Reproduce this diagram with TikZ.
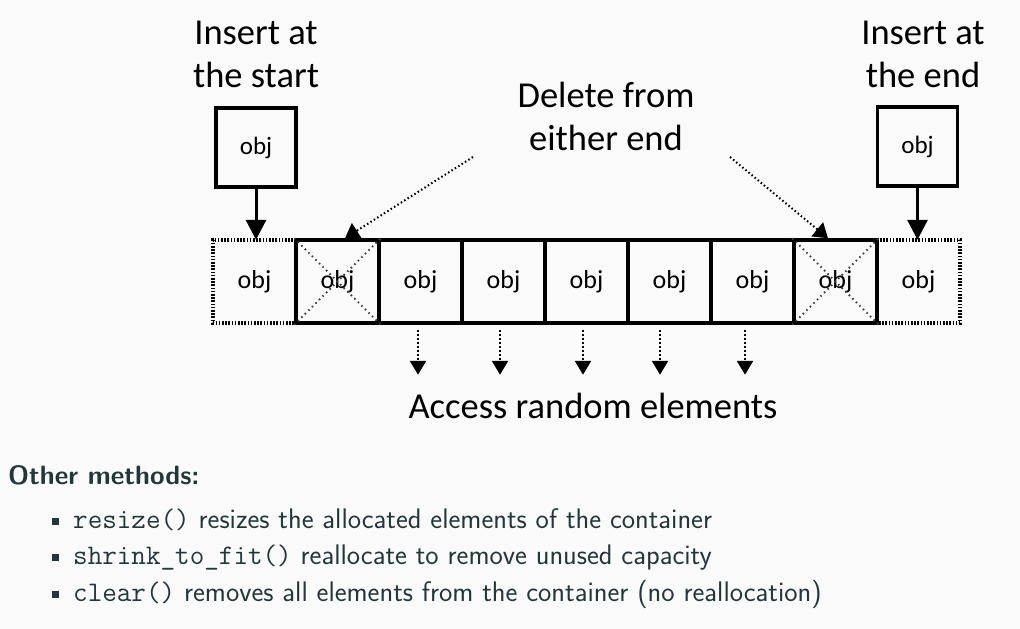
\documentclass[tikz,border=0pt]{standalone}
\usepackage{fontspec}
\newfontfamily\calfont{Carlito}
\usetikzlibrary{arrows.meta,calc}
\definecolor{bg}{HTML}{FAFAFA}
\definecolor{slate}{HTML}{23373B}
\tikzset{
  cell/.style={minimum width=83pt,minimum height=83pt,inner sep=0pt,font=\calfont\fontsize{26}{30}\selectfont},
  solidcell/.style={cell,draw,line width=3.5pt},
  objbox/.style={minimum width=80pt,minimum height=79pt,inner sep=0pt,draw,line width=3.5pt,font=\calfont\fontsize{25}{29}\selectfont},
  lbl/.style={align=center,font=\calfont\fontsize{36.5}{43}\selectfont},
  dotline/.style={line width=3.5pt,dash pattern=on 1.6pt off 1.6pt},
  cross/.style={line width=2pt,dash pattern=on 1.5pt off 3.5pt,black!75},
  ins/.style={line width=3pt,-{Triangle[width=20pt,length=20pt]}},
  del/.style={line width=2pt,dash pattern=on 1.5pt off 2.5pt,-{Triangle[width=18pt,length=14pt]}},
  acc/.style={line width=2.5pt,dash pattern=on 2pt off 2pt,-{Triangle[width=16pt,length=14pt]}},
  bul/.style={fill=slate,minimum size=7pt,inner sep=0pt},
  item/.style={anchor=base west,inner sep=0pt,text=slate,font=\sffamily\fontsize{28.3}{32}\selectfont},
}
\begin{document}
\begin{tikzpicture}[x=1pt,y=-1pt]
\fill[bg] (0,0) rectangle (1020,629);
\useasboundingbox (0,0) rectangle (1020,629);
% cells
\node[cell] (c0) at (254.5,281.5) {obj};
\foreach \i in {1,...,7}{
  \node[solidcell] (c\i) at ({254.5+83*\i},281.5) {obj};
}
\node[cell] (c8) at (918.5,281.5) {obj};
\draw[dotline] (c0.north east) -- (c0.north west) -- (c0.south west) -- (c0.south east);
\draw[dotline] (c8.north west) -- (c8.north east) -- (c8.south east) -- (c8.south west);
\foreach \i in {1,7}{
  \draw[cross] (c\i.north west) -- (c\i.south east);
  \draw[cross] (c\i.south west) -- (c\i.north east);
}
% insert boxes
\node[objbox] (tl) at (256,147.5) {obj};
\node[objbox] (tr) at (917.5,146.5) {obj};
\draw[ins] (tl.south) -- (tl.south |- c0.north);
\draw[ins] (tr.south) -- (tr.south |- c8.north);
% labels
\node[lbl] (ls) at (256,54) {Insert at\\the start};
\node[lbl] (le) at (923,54) {Insert at\\the end};
\node[lbl] (ld) at (606,116) {Delete from\\either end};
\node[lbl] (la) at (593,406) {Access random elements};
% delete arrows
\coordinate (dl) at (473,157);
\coordinate (dr) at (730,157);
\draw[del] (dl) -- ($(c1.north)+(7.5,0)$);
\draw[del] (dr) -- ($(c7.north)+(-7.5,0)$);
% access arrows
\foreach \i/\dx in {2/-2.5,3/-3.5,4/-3.5,5/-9.5,6/-7.5}{
  \draw[acc] ($(c\i.south)+(\dx,5)$) -- ($(c\i.south)+(\dx,50)$);
}
% bottom text
\node[item,font=\sffamily\bfseries\fontsize{26.5}{30}\selectfont] (om) at (8,484) {Other methods:};
\node[item] (i1) at (73,528) {\texttt{resize()} resizes the allocated elements of the container};
\node[item] (i2) at (73,564) {\texttt{shrink\_to\_fit()} reallocate to remove unused capacity};
\node[item] (i3) at (73,601) {\texttt{clear()} removes all elements from the container (no reallocation)};
\node[bul] (b1) at (55.5,521) {};
\node[bul] (b2) at (55.5,557) {};
\node[bul] (b3) at (55.5,594) {};
\end{tikzpicture}
\end{document}
